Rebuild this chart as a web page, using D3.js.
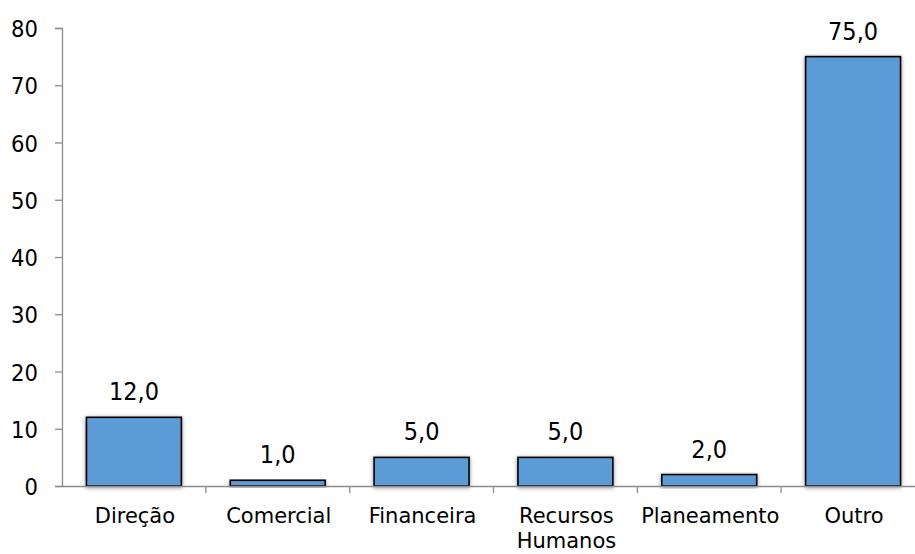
<!DOCTYPE html>
<html>
<head>
<meta charset="utf-8">
<script src="https://cdn.jsdelivr.net/npm/d3@7"></script>
<style>
  html, body { margin: 0; padding: 0; background: #fff; }
  svg { display: block; }
  text { font-family: "DejaVu Sans Condensed", "DejaVu Sans", sans-serif; fill: #000; }
  .cat { font-family: "DejaVu Sans", sans-serif; }
</style>
</head>
<body>
<svg id="chart" width="915" height="554"></svg>
<script>
// Categories and their values
const categories = ["Direção", "Comercial", "Financeira", "Recursos Humanos", "Planeamento", "Outro"];
const values = [12.0, 1.0, 5.0, 5.0, 2.0, 75.0];
const yTicks = [0, 10, 20, 30, 40, 50, 60, 70, 80];

const svg = d3.select("#chart");
const plotLeft = 62, plotRight = 925, plotTop = 28, plotBottom = 486;

const x = d3.scaleBand().domain(categories).range([plotLeft, plotRight]).padding(0);
const y = d3.scaleLinear().domain([0, 80]).range([plotBottom, plotTop]);

// soft shadow behind the bars
const defs = svg.append("defs");
const f = defs.append("filter").attr("id", "shadow")
  .attr("x", "-20%").attr("y", "-20%").attr("width", "140%").attr("height", "140%");
f.append("feDropShadow").attr("dx", 0).attr("dy", 1).attr("stdDeviation", 2.2)
  .attr("flood-color", "#000").attr("flood-opacity", 0.45);

const barFrac = 0.66;
const bw = x.bandwidth() * barFrac;

// bars
svg.append("g").selectAll("rect").data(values).join("rect")
  .attr("x", (d, i) => x(categories[i]) + (x.bandwidth() - bw) / 2)
  .attr("y", d => y(d))
  .attr("width", bw)
  .attr("height", d => y(0) - y(d))
  .attr("fill", "#5B9BD5")
  .attr("stroke", "#000")
  .attr("stroke-width", 1.6)
  .attr("filter", "url(#shadow)");

// y axis
const yAxis = d3.axisLeft(y).tickValues(yTicks).tickSize(7).tickPadding(17).tickFormat(d3.format("d"));
const gy = svg.append("g").attr("transform", `translate(${plotLeft},0)`).call(yAxis);
gy.select(".domain").attr("stroke", "#8c8c8c").attr("stroke-width", 1.3);
gy.selectAll(".tick line").attr("stroke", "#8c8c8c").attr("stroke-width", 1.3);
gy.selectAll(".tick text").attr("font-size", 23.5).attr("font-family", null).attr("dy", "0.37em");

// x axis
const xAxis = d3.axisBottom(x).tickSize(0).tickFormat("");
const gx = svg.append("g").attr("transform", `translate(0,${plotBottom})`).call(xAxis);
gx.select(".domain").attr("stroke", "#8c8c8c").attr("stroke-width", 1.5);
gx.selectAll(".tick").remove();
// category separators
gx.selectAll("line.sep").data(categories.slice(1)).join("line")
  .attr("class", "sep")
  .attr("x1", d => x(d)).attr("x2", d => x(d))
  .attr("y1", 0).attr("y2", 7)
  .attr("stroke", "#8c8c8c").attr("stroke-width", 1.3);

// category labels (the long one wraps onto two lines)
const catG = svg.append("g");
categories.forEach(c => {
  const lines = c === "Recursos Humanos" ? ["Recursos", "Humanos"] : [c];
  const cx = x(c) + x.bandwidth() / 2 + 1;
  const t = catG.append("text")
    .attr("class", "cat")
    .attr("x", cx)
    .attr("y", 523)
    .attr("text-anchor", "middle")
    .attr("font-size", 21);
  lines.forEach((l, j) => {
    t.append("tspan").attr("x", cx).attr("dy", j === 0 ? 0 : 25).text(l);
  });
});

// value labels
const fmt = v => d3.format(".1f")(v).replace(".", ",");
svg.append("g").selectAll("text").data(values).join("text")
  .attr("x", (d, i) => x(categories[i]) + x.bandwidth() / 2)
  .attr("y", d => y(d) - 17)
  .attr("text-anchor", "middle")
  .attr("font-size", 25)
  .text(d => fmt(d));
</script>
</body>
</html>
